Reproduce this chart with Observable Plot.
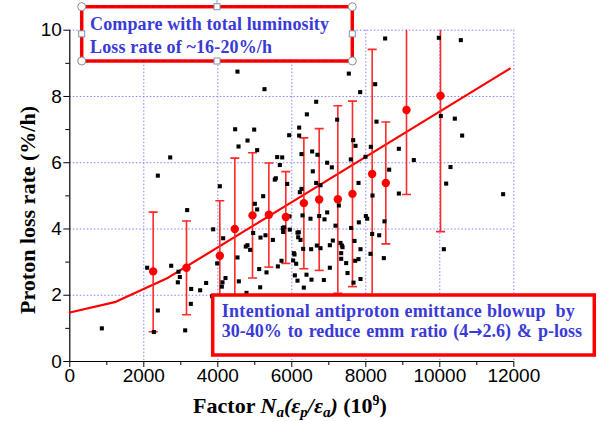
<!DOCTYPE html>
<html>
<head>
<meta charset="utf-8">
<script src="https://cdn.jsdelivr.net/npm/d3@7"></script>
<script src="https://cdn.jsdelivr.net/npm/@observablehq/plot@0.6"></script>
<style>
  html, body { margin: 0; padding: 0; background: #ffffff; }
  #chart { width: 600px; height: 421px; overflow: hidden; }
</style>
</head>
<body>
<div id="chart"></div>
<script>
// ---- Data ----
const scatterX = [
  4532,5262,4469,4983,4803,4560,5064,2713,5929,6199,6199,5605,5740,5677,2379,5568,5541,5875,4055,5226,5001,5064,3172,6217,
  8523,9974,10568,7541,8253,7848,6659,6407,7226,8289,10028,10406,10604,7659,7722,8136,8893,6262,6550,6694,7595,7992,9298,6955,7082,6568,8631,10289,6659,6776,7803,10172,6262,8893,8181,11712,7271,
  866,2091,2379,2271,2740,2938,2974,2920,3280,3523,3685,3271,3118,3875,3847,3983,4145,4127,4109,4208,4532,4568,4775,4956,4757,4802,4874,5154,5289,5488,5118,5145,5316,5623,5722,5757,5766,5793,5937,5946,6055,6073,6037,6118,6082,6154,6154,6172,6190,
  6289,6505,6740,6884,6956,6235,7181,7604,7812,8001,8037,8505,8172,8362,7109,7028,7316,7353,7371,7695,6677,6776,6523,6307,7857,8127,7335,7335,7470,7713,7803,8487,7028,7506,6397,6532,6866,6325,7668,7857,10109
];
const scatterY = [
  8.75,8.22,7.01,7.00,6.67,6.49,6.38,6.16,6.83,7.06,6.82,6.17,6.16,5.93,5.61,5.53,5.49,5.36,5.29,4.99,4.76,4.59,4.57,5.11,
  9.75,9.77,9.70,8.69,8.37,8.13,7.84,7.46,7.30,7.24,7.41,7.33,6.82,6.68,6.51,6.48,6.42,6.26,6.34,6.24,6.10,6.18,6.08,6.00,5.86,5.74,5.79,5.87,5.39,5.32,5.39,5.37,5.21,5.07,5.01,5.05,4.71,
  1.00,2.83,1.54,0.89,2.89,2.71,2.55,2.39,2.19,2.15,2.37,1.74,0.94,3.99,1.97,2.96,3.72,2.39,2.26,2.52,3.14,2.42,2.07,3.88,3.47,3.51,3.37,3.74,3.81,3.67,2.79,2.24,2.69,2.87,3.04,4.03,3.91,4.05,4.38,3.98,3.27,3.23,3.05,2.95,2.60,2.44,3.89,3.75,3.90,
  4.41,4.31,4.39,4.29,4.50,3.67,4.10,4.03,4.20,4.39,4.31,4.23,3.85,3.81,3.65,3.51,3.58,3.50,3.45,3.64,3.50,3.42,3.39,3.40,3.39,3.25,3.27,3.10,2.97,3.04,3.09,3.12,2.83,2.67,2.62,2.47,2.46,2.23,2.38,2.49,3.39
];

const binX    = [2253,3154,4055,4460,4938,5380,5838,6326,6740,7244,7640,8172,8541,9100,10019];
const binMean = [2.72,2.83,3.19,4.00,4.41,4.43,4.36,4.78,4.89,4.90,5.06,5.66,5.39,7.59,8.02];
const binLow  = [0.90,1.41,1.53,1.86,2.52,2.85,2.96,2.80,2.75,2.06,2.26,1.90,3.55,5.04,3.92];
const binHigh = [4.51,4.24,4.85,6.14,6.30,5.99,5.73,6.75,7.03,7.72,7.86,9.42,7.23,10.14,12.12];

const fitX = [0,1244,2659,11893];
const fitY = [1.48,1.80,2.53,8.84];

const xMajorTicks = [0,2000,4000,6000,8000,10000,12000];
const xMinorTicks = [1000,3000,5000,7000,9000,11000];
const yMajorTicks = [0,2,4,6,8,10];
const yMinorTicks = [1,3,5,7,9];
const xGridTicks = [2000,4000,6000,8000,10000,12000];
const yGridTicks = [2,4,6,8,10];

const note1Lines = ["Compare with total luminosity", "Loss rate of ~16-20%/h"];
const note2Line1 = "Intentional antiproton emittance blowup\u00A0 by";
const note2Line2a = "30-40% to reduce emm ratio (4";
const note2Arrow = "\u2192";
const note2Line2b = "2.6) & p-loss";

// ---- Tables built from arrays ----
const scatter = scatterX.map((x, i) => ({x, y: scatterY[i]}));
const bins = binX.map((x, i) => ({x, mean: binMean[i], low: binLow[i], high: binHigh[i]}));
const fit = fitX.map((x, i) => ({x, y: fitY[i]}));

const capSymbol = {
  draw(context) {
    context.moveTo(-4.5, 0);
    context.lineTo(4.5, 0);
  }
};

const gridStyle = {stroke: "#8080ff", strokeOpacity: 1, strokeWidth: 1, strokeDasharray: "1.5,2"};
const plainFmt = d3.format("d");

const plot = Plot.plot({
  width: 600,
  height: 421,
  marginLeft: 69.3,
  marginRight: 86.7,
  marginTop: 29.7,
  marginBottom: 60,
  x: {domain: [0, 12000]},
  y: {domain: [0, 10]},
  style: {fontFamily: "'Liberation Sans', Arial, sans-serif", fontSize: "19px", color: "#000", background: "#fff", overflow: "visible"},
  marks: [
    Plot.gridX(xGridTicks, gridStyle),
    Plot.gridY(yGridTicks, gridStyle),
    Plot.axisX({ticks: xMajorTicks, tickSize: 6, tickPadding: 1, tickFormat: plainFmt, label: null, fontSize: 19, stroke: "#000", strokeOpacity: 1}),
    Plot.axisX({ticks: xMinorTicks, tickSize: 4, tickFormat: () => "", label: null, stroke: "#000", strokeOpacity: 1}),
    Plot.axisY({ticks: yMajorTicks, tickSize: 6, tickPadding: 2, tickFormat: plainFmt, label: null, fontSize: 19, stroke: "#000", strokeOpacity: 1}),
    Plot.axisY({ticks: yMinorTicks, tickSize: 4, tickFormat: () => "", label: null, stroke: "#000", strokeOpacity: 1}),
    Plot.ruleX([0], {stroke: "#000", strokeWidth: 1.2}),
    Plot.ruleY([0], {stroke: "#000", strokeWidth: 1.2}),
    Plot.line(fit, {x: "x", y: "y", stroke: "#ff0000", strokeWidth: 2.2}),
    Plot.ruleX(bins, {x: "x", y1: "low", y2: "high", stroke: "#ff2a2a", strokeWidth: 1.6, clip: true}),
    Plot.dot(bins, {x: "x", y: "low", symbol: capSymbol, stroke: "#ff2a2a", strokeWidth: 1.6, clip: true}),
    Plot.dot(bins, {x: "x", y: "high", symbol: capSymbol, stroke: "#ff2a2a", strokeWidth: 1.6, clip: true}),
    Plot.dot(scatter, {x: "x", y: "y", symbol: "square", r: 2.3, fill: "#000", stroke: "none"}),
    Plot.dot(bins, {x: "x", y: "mean", r: 4.2, fill: "#ff0000", stroke: "none"})
  ]
});

document.getElementById("chart").appendChild(plot);

// ---- Annotations (labels and notes) ----
const svg = d3.select(plot);
const blue = "#3a3ad6";
const serif = "'Liberation Serif', 'Times New Roman', serif";

// y-axis label
svg.append("text")
  .attr("transform", "translate(27,210) rotate(-90)")
  .attr("text-anchor", "middle")
  .attr("dominant-baseline", "central")
  .style("font-family", serif).style("font-weight", "bold").style("font-size", "22px")
  .attr("fill", "#000")
  .text("Proton loss rate (%/h)");

// x-axis label
const xl = svg.append("text")
  .attr("x", 290).attr("y", 413)
  .attr("text-anchor", "middle")
  .style("font-family", serif).style("font-weight", "bold").style("font-size", "22px")
  .attr("fill", "#000");
xl.append("tspan").text("Factor ");
xl.append("tspan").style("font-style", "italic").text("N");
xl.append("tspan").style("font-style", "italic").style("font-size", "15px").attr("dy", 4).text("a");
xl.append("tspan").style("font-style", "italic").attr("dy", -4).text("(\u03B5");
xl.append("tspan").style("font-style", "italic").style("font-size", "15px").attr("dy", 4).text("p");
xl.append("tspan").style("font-style", "italic").attr("dy", -4).text("/\u03B5");
xl.append("tspan").style("font-style", "italic").style("font-size", "15px").attr("dy", 4).text("a");
xl.append("tspan").style("font-style", "italic").attr("dy", -4).text(")");
xl.append("tspan").text(" (10");
xl.append("tspan").style("font-size", "14px").attr("dy", -8).text("9");
xl.append("tspan").attr("dy", 8).text(")");

// Note box 1 (selected shape look)
const b1 = {l: 81.7, r: 352.3, t: 6.7, b: 61};
const g1 = svg.append("g").attr("text-anchor", "start");
g1.append("rect").attr("x", b1.l).attr("y", b1.t).attr("width", b1.r - b1.l).attr("height", b1.b - b1.t)
  .attr("fill", "#fff").attr("stroke", "#ff0000").attr("stroke-width", 3.5);
g1.append("rect").attr("x", b1.l).attr("y", b1.t).attr("width", b1.r - b1.l).attr("height", b1.b - b1.t)
  .attr("fill", "none").attr("stroke", "#b00000").attr("stroke-width", 1).attr("stroke-dasharray", "4,3").attr("opacity", 0.6);
const note1Widths = [239, 182];
note1Lines.forEach((s, i) => {
  g1.append("text").attr("x", 90).attr("y", 30 + i * 22.5)
    .attr("text-anchor", "start")
    .attr("textLength", note1Widths[i]).attr("lengthAdjust", "spacing")
    .style("font-family", serif).style("font-weight", "bold").style("font-size", "18px")
    .attr("fill", blue).text(s);
});
const midX = (b1.l + b1.r) / 2, midY = (b1.t + b1.b) / 2;
g1.append("line").attr("x1", midX).attr("x2", midX).attr("y1", 0).attr("y2", b1.t).attr("stroke", "#8aa0c0").attr("stroke-width", 1);
[[b1.l, b1.t], [b1.r, b1.t], [b1.l, b1.b], [b1.r, b1.b]].forEach(([cx, cy]) => {
  g1.append("circle").attr("cx", cx).attr("cy", cy).attr("r", 4).attr("fill", "#fff").attr("stroke", "#8c8c8c").attr("stroke-width", 1);
});
[[midX, b1.t], [midX, b1.b], [b1.l, midY], [b1.r, midY]].forEach(([cx, cy]) => {
  g1.append("rect").attr("x", cx - 3).attr("y", cy - 3).attr("width", 6).attr("height", 6).attr("fill", "#fff").attr("stroke", "#7f93b0").attr("stroke-width", 1);
});

// Note box 2
const b2 = {l: 212.7, r: 594.3, t: 295, b: 355};
const g2 = svg.append("g").attr("text-anchor", "start");
g2.append("rect").attr("x", b2.l).attr("y", b2.t).attr("width", b2.r - b2.l).attr("height", b2.b - b2.t)
  .attr("fill", "#fff").attr("stroke", "#ff0000").attr("stroke-width", 3.5);
g2.append("text").attr("x", 221.7).attr("y", 317)
  .attr("text-anchor", "start")
  .attr("textLength", 353).attr("lengthAdjust", "spacing")
  .style("font-family", serif).style("font-weight", "bold").style("font-size", "18px")
  .attr("fill", blue).text(note2Line1);
const t2 = g2.append("text").attr("x", 221.7).attr("y", 337.3)
  .attr("text-anchor", "start")
  .style("font-family", serif).style("font-weight", "bold").style("font-size", "18px")
  .style("word-spacing", "1.5px")
  .attr("fill", blue);
t2.append("tspan").text(note2Line2a);
t2.append("tspan").style("font-family", "'DejaVu Sans', sans-serif").style("font-size", "17px").text(note2Arrow);
t2.append("tspan").text(note2Line2b);
</script>
</body>
</html>
